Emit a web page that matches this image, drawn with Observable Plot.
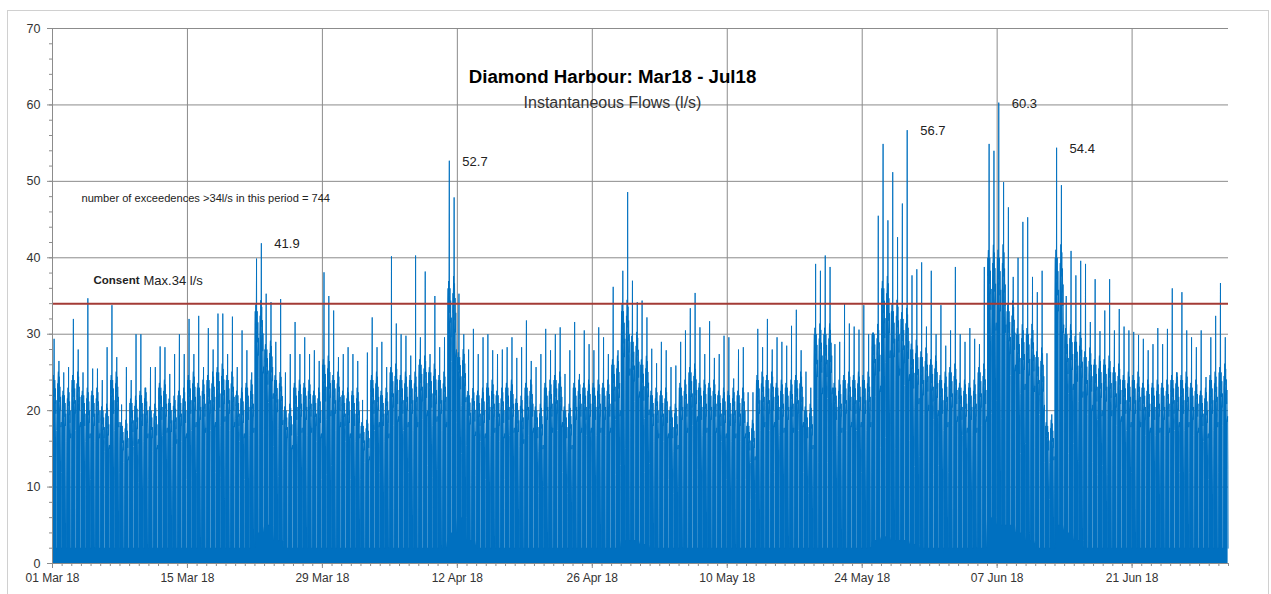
<!DOCTYPE html>
<html><head><meta charset="utf-8">
<script src="https://cdn.jsdelivr.net/npm/d3@7"></script>
<script src="https://cdn.jsdelivr.net/npm/@observablehq/plot@0.6"></script>
<style>
html,body{margin:0;padding:0;background:#fff;}
#wrap{position:relative;width:1271px;height:594px;overflow:hidden;}
#border{position:absolute;left:7px;top:10px;width:1262px;height:600px;border:1px solid #d0d0d0;box-sizing:border-box;}
#chart{position:absolute;left:0;top:0;}
</style></head><body>
<div id="wrap"><div id="border"></div><div id="chart"></div></div>
<script>
// ---- data ----
const startLabel = "01 Mar 18";
const endLabel = "01 Jul 18";
const tickLabels = ["01 Mar 18","15 Mar 18","29 Mar 18","12 Apr 18","26 Apr 18","10 May 18","24 May 18","07 Jun 18","21 Jun 18"];
const yTicks = [0,10,20,30,40,50,60,70];
const consentMax = 34;
const title = "Diamond Harbour: Mar18 - Jul18";
const subtitle = "Instantaneous Flows (l/s)";
const exceedText = "number of exceedences >34l/s in this period = 744";

// morning (first half-day) spike peak per day, l/s
const peaksA = [
 29.4,25,32,25,25.5,24,33.8,20.8,24,30,
 25.7,28.4,24.8,30,32,32.4,30.8,32.7,27.4,25.7,
 27.9,39.9,35.3,29,25,31.6,29.6,27.9,38.1,33.1,
 27.4,27.4,21.4,32.2,29,40.2,30,27.2,29.6,27.4,
 28.3,52.7,35.3,28,27.4,30,27.4,28.3,26.9,31.8,
 25.7,30.7,30,24.8,31.6,30.5,27.9,29.6,36.2,38.3,
 37,34.4,28.1,29,25.7,29,33.4,30.9,31.7,27.4,
 29.6,28,22.4,30.7,32,29.6,28.5,33.2,25.1,39.2,
 40.3,28.7,34,31,33.8,30.2,54.9,51.2,47.1,37.7,
 39.4,38.3,33.8,30.5,30,30.8,28.7,54.9,60.3,46.6,
 40,45.3,35.5,27.5,54.4,35,37.7,39.2,37.2,33.1,
 30.5,31,30.3,29.4,28.7,28.7,36,35.5,29.6,30.5,
 29.6,36.7];
// second half-day spike peak per day, l/s
const peaksB = [
 26.5,25.7,28,34.7,25.5,28.3,27,25.7,30,23,
 25.7,28.3,27.4,27.4,27.4,25.7,28,32.7,32.3,30.5,
 25,41.9,34.2,34.6,27.4,27.4,27.4,26.5,35,27,
 28.3,26.5,27.6,28.3,25.7,31.4,29.8,40.3,38.2,35,
 29.6,47.9,30,30.7,29.6,27.9,28,29.6,28.3,26.5,
 27.4,27.9,30.9,27.9,24.8,28.7,30.9,27.4,27.9,48.6,
 34.2,32.2,26.2,27.9,25.9,30.5,35.4,27.4,26.9,29.8,
 24.2,28.3,22.4,28.3,28,29,31.1,27.9,23,38.3,
 38.8,29,31.4,30.6,30,45.5,44.9,42.7,56.7,38.5,
 31,30,28.5,38.8,29,29.4,38.8,54,49.9,37.5,
 44.7,37.5,38.3,19.5,49.5,40.9,39.6,31.6,30.4,37.2,
 33.3,30.5,29.9,27.9,30.8,30.7,25,30.5,28.3,24.4,
 32.4,29.6];
// typical upper level of the dense flow band per day, l/s
const level = [
 24,22,24,22,22,20,24,18,21,22,20,23,21,22,24,23,24,25,24,22,
 23,33,28,24,20,23,23,22,26,24,22,22,18,24,22,25,24,24,26,25,24,
 36,27,22,22,23,22,23,21,23,20,23,24,20,23,23,23,23,26,33,29,26,
 22,22,20,23,25,23,23,22,22,22,18,24,24,23,23,24,20,30,30,23,
 24,24,24,30,36,33,32,28,27,26,24,25,23,23,25,40,40,33,30,30,
 27,18,40,30,29,27,26,26,25,24,24,23,23,23,24,24,23,22,24,25];
// night-time base flow per day, l/s
const floor = [
 2,2,2,2,2,2,2,2,2,2,2,2,2,2,2,2,2,2,2,2,2,
 4,5,3,
 2,2,2,2,2,2,2,2,2,2,2,2,2,2,2,2,2,
 4,6,3,
 2,2,2,2,2,2,2,2,2,2,2,2,2,2,2,
 3,3,2.5,
 2,2,2,2,2,2,2,2,2,2,2,2,2,2,2,2,2,2,2,2,2,2,2,
 3,3.5,3,3,2.5,
 2,2,2,2,2,2,2,
 6,5,5,4,3,
 2,2,
 5,4,3,
 2,2,2,2,2,2,2,2,2,2,2,2,2,2,2];
// labelled maxima: [day index, half-day]
const labelledPeaks = [[21,1],[41,0],[88,1],[98,0],[104,0]];

// ---- build ----
const parse = d3.utcParse("%d %b %y");
const fmt = d3.utcFormat("%d %b %y");
const start = parse(startLabel), end = parse(endLabel);
const H = 3600e3;
const tickDates = tickLabels.map(parse);
const dayTicks = d3.utcDay.range(start, new Date(+end + 1));
const minorY = d3.range(0, 71, 2);

// shape of one pumping cycle: [hour, share of band between floor and level]; "pk" = spike top
const cycleA = [[0,0],[0.3,0.85],[0.8,1],[1.5,0.93],[2.2,1.03],[3.1,0.92],[3.7,1],[4,"pk"],[4.3,0.97],[5.1,0.9],[5.7,1],[6.6,0.86],[7.3,0.95],[8.2,0.8],[9,0.88],[9.8,0.7],[10.5,0.4],[11,0]];
const cycleB = [[0,0],[0.4,0.8],[1.1,0.98],[1.8,0.9],[2.6,1.05],[3.3,0.93],[3.8,1],[4,"pk"],[4.3,0.95],[5,1.02],[5.8,0.87],[6.5,0.96],[7.4,0.82],[8.1,0.9],[9,0.72],[9.8,0.75],[10.5,0.45],[11,0]];

const series = [];
const peakPoint = (d, s) => ({date: new Date(+start + (d*24 + s*12 + 4)*H), value: s ? peaksB[d] : peaksA[d]});
for (let d = 0; d < peaksA.length; d++) {
  [peaksA[d], peaksB[d]].forEach((pk, s) => {
    const base = +start + (d*24 + s*12)*H;
    const lv = Math.min(level[d], pk), fl = floor[d];
    (s ? cycleB : cycleA).forEach(([h, f]) =>
      series.push({date: new Date(base + h*H), value: f === "pk" ? pk : Math.min(pk, fl + f*(lv - fl))}));
  });
}
const labels = labelledPeaks.map(([d,s]) => peakPoint(d,s));

const blue = "#0070C0", grid = "#8c8c8c";
const chart = Plot.plot({
  width: 1271, height: 594,
  marginLeft: 52, marginRight: 43, marginTop: 28, marginBottom: 31,
  x: {type: "utc", domain: [start, end]},
  y: {domain: [0, 70]},
  style: {fontFamily: "'Liberation Sans', Arial, sans-serif", fontSize: "12px", color: "#333", background: "transparent"},
  marks: [
    Plot.gridY(yTicks, {stroke: grid, strokeOpacity: 1}),
    Plot.gridX(tickDates, {stroke: grid, strokeOpacity: 1}),
    Plot.areaY(series, {x: "date", y: "value", fill: blue, curve: "linear"}),
    Plot.lineY(series, {x: "date", y: "value", stroke: blue, strokeWidth: 0.9}),
    Plot.ruleY([consentMax], {stroke: "#a33b36", strokeWidth: 2}),
    Plot.ruleX([start], {stroke: grid}),
    Plot.ruleY([0], {stroke: grid}),
    Plot.axisY(yTicks, {tickSize: 5, tickPadding: 7, label: null, stroke: grid, fill: "#333", fontSize: 12.5}),
    Plot.axisY(minorY, {tickSize: 3, tickFormat: () => "", label: null, stroke: grid}),
    Plot.axisX(tickDates, {tickSize: 5, tickPadding: 5, tickFormat: fmt, label: null, stroke: grid, fill: "#333", fontSize: 12}),
    Plot.axisX(dayTicks, {tickSize: 3, tickFormat: () => "", label: null, stroke: grid}),
    Plot.text([title], {frameAnchor: "top", dx: -28, dy: 49, lineAnchor: "middle", fontWeight: "bold", fontSize: 18.7, fill: "#000"}),
    Plot.text([subtitle], {frameAnchor: "top", dx: -28, dy: 74, lineAnchor: "middle", fontSize: 16, fill: "#333"}),
    Plot.text([exceedText], {frameAnchor: "top-left", dx: 29, dy: 170, lineAnchor: "middle", textAnchor: "start", fontSize: 11.1, fill: "#222"}),
    Plot.text(["Consent"], {frameAnchor: "top-left", dx: 41, dy: 252, lineAnchor: "middle", textAnchor: "start", fontSize: 11.5, fontWeight: "bold", fill: "#222"}),
    Plot.text(["Max.34 l/s"], {frameAnchor: "top-left", dx: 91, dy: 252, lineAnchor: "middle", textAnchor: "start", fontSize: 13, fill: "#222"}),
    Plot.text(labels, {x: "date", y: "value", text: d => d.value.toFixed(1), dx: 13, dy: 1, textAnchor: "start", lineAnchor: "middle", fontSize: 13, fill: "#222"})
  ]
});
document.getElementById("chart").appendChild(chart);
</script>
</body></html>
